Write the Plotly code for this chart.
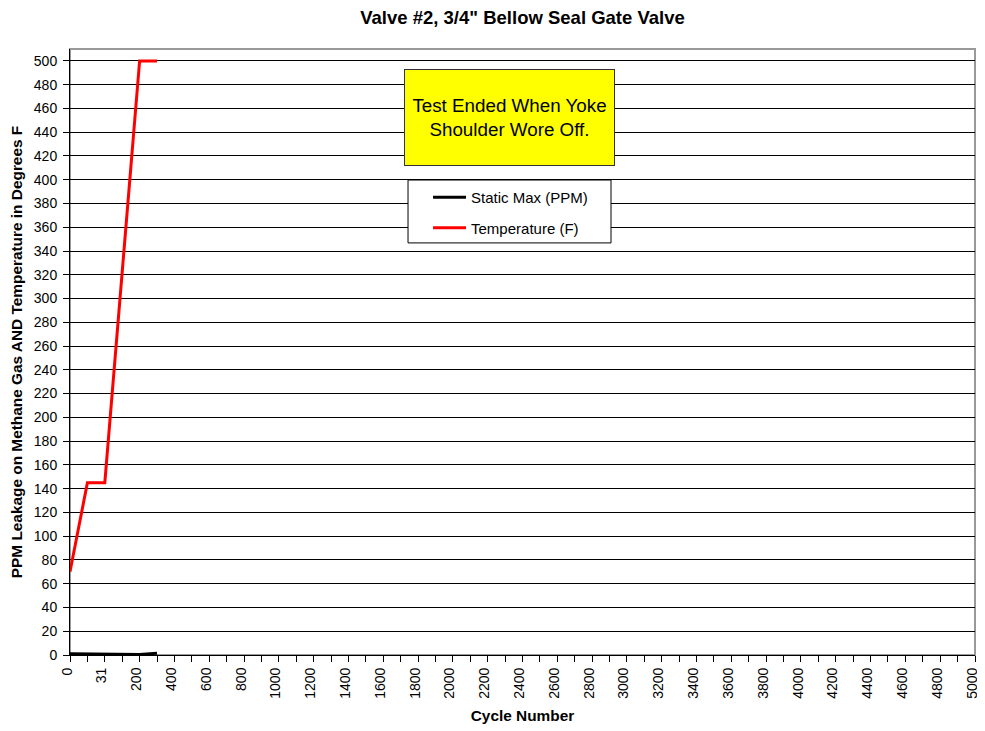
import plotly.graph_objects as go

categories = ["0", "15", "31", "100", "200", "300"] + [str(v) for v in range(400, 5001, 100)]
temp_cats = ["0", "15", "31", "100", "200", "300"]
temperature = [70, 145, 145, 322, 500, 500]
static_max = [1, 1, 0.5, 0.5, 0.5, 1.5]
y_ticks = list(range(0, 501, 20))
shown_labels = ["0", "31", "200"] + [str(v) for v in range(400, 5001, 200)]

font = "Liberation Sans, Arial, sans-serif"

W, H = 977, 723

fig = go.Figure()
fig.add_trace(go.Scatter(x=temp_cats, y=static_max, mode="lines", name="Static Max (PPM)",
                         legendgroup="a", line=dict(color="black", width=3)))
fig.add_trace(go.Scatter(x=temp_cats, y=temperature, mode="lines", name="Temperature (F)",
                         legendgroup="b", line=dict(color="#ff0000", width=3)))

ticktext = [c if c in shown_labels else "" for c in categories]

fig.update_layout(
    width=W, height=H,
    margin=dict(l=62, r=10, t=41, b=76, autoexpand=False),
    paper_bgcolor="white", plot_bgcolor="white",
    font=dict(family=font, size=14, color="black"),
    title=dict(text="<b>Valve #2, 3/4\" Bellow Seal Gate Valve</b>", x=0.5, xref="paper",
               y=1 - 9.5 / H, yref="container", yanchor="middle", font=dict(size=18.5, family=font)),
    showlegend=True,
    legend=dict(x=0.3956, y=0.782, xanchor="left", yanchor="top",
                borderwidth=0, bgcolor="rgba(0,0,0,0)",
                font=dict(size=15, family=font), itemwidth=33,
                tracegroupgap=8),
    xaxis=dict(type="category", categoryorder="array", categoryarray=categories,
               range=[0, len(categories) - 1], automargin=False,
               tickmode="array", tickvals=categories, ticktext=ticktext,
               tickangle=-90, ticks="outside", ticklen=6, tickcolor="black",
               ticklabelshift=-3,
               showline=True, linecolor="black", linewidth=1, showgrid=False,
               zeroline=False,
               title=dict(text="<b>Cycle Number</b>", font=dict(size=15.4, family=font), standoff=12),
               tickfont=dict(size=14, family=font)),
    yaxis=dict(range=[0, 510], tickmode="array", tickvals=y_ticks, automargin=False,
               ticks="outside", ticklen=6, tickcolor="black", ticklabelstandoff=3,
               showline=True, linecolor="black", linewidth=1,
               showgrid=True, gridcolor="black", gridwidth=1, zeroline=False,
               title=dict(text="<b>PPM Leakage on Methane Gas AND Temperature in Degrees F</b>",
                          font=dict(size=15.4, family=font), standoff=8),
               tickfont=dict(size=14, family=font)),
)

fig.add_shape(type="rect", xref="paper", yref="paper", x0=0, x1=1, y0=0, y1=1,
              line=dict(color="#999999", width=2), layer="below")

# legend frame
fig.add_shape(type="rect", xref="paper", yref="paper", x0=0.3735, x1=0.5978, y0=0.680, y1=0.7838,
              line=dict(color="black", width=1), fillcolor="white", layer="above")

fig.add_annotation(xref="paper", yref="paper", x=0.4856, y=0.887, xanchor="center", yanchor="middle",
                   text="Test Ended When Yoke<br>Shoulder Wore Off.",
                   showarrow=False, bgcolor="#ffff00", bordercolor="#333333", borderwidth=1,
                   width=207, height=93, font=dict(size=18.8, family=font, color="black"),
                   align="center", valign="middle")

fig.write_html("out.html")
